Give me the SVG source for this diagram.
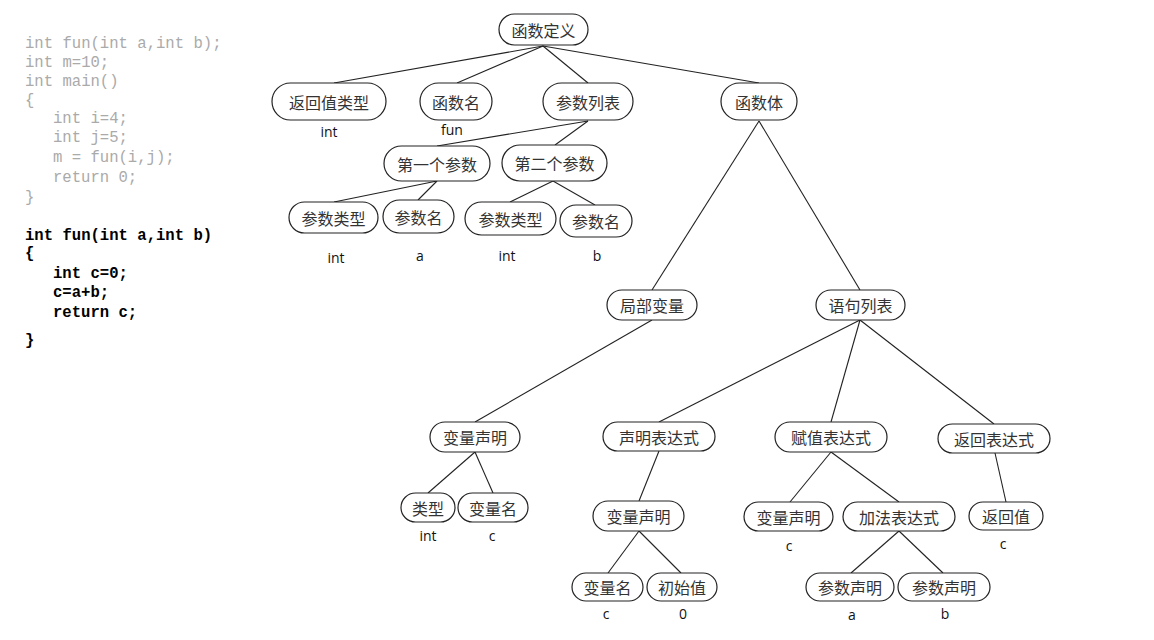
<svg xmlns="http://www.w3.org/2000/svg" width="1154" height="640" viewBox="0 0 1154 640">
<style>
.n rect{fill:#fff;stroke:#222;stroke-width:1.2}
.n text{font-family:"Noto Sans CJK SC","Noto Sans",sans-serif;font-size:16px;fill:#333;text-anchor:middle;dominant-baseline:central}
.lbl{font-family:"Open Sans","Liberation Sans",sans-serif;font-size:14px;fill:#111;text-anchor:middle}
.e line{stroke:#222;stroke-width:1.1}
.code{font-family:"Liberation Mono","DejaVu Sans Mono",monospace;font-size:15.6px}
.g{fill:#aaa}
.b{fill:#000;font-weight:bold}
</style>
<rect width="1154" height="640" fill="#fff"/>
<g id="code" class="code">
<text class="g" x="25" y="48">int fun(int a,int b);</text>
<text class="g" x="25" y="67">int m=10;</text>
<text class="g" x="25" y="86">int main()</text>
<text class="g" x="25" y="105">{</text>
<text class="g" x="53" y="123">int i=4;</text>
<text class="g" x="53" y="142">int j=5;</text>
<text class="g" x="53" y="162">m = fun(i,j);</text>
<text class="g" x="53" y="182">return 0;</text>
<text class="g" x="25" y="202">}</text>
<text class="b" x="25" y="240">int fun(int a,int b)</text>
<text class="b" x="25" y="258">{</text>
<text class="b" x="53" y="278">int c=0;</text>
<text class="b" x="53" y="297">c=a+b;</text>
<text class="b" x="53" y="317">return c;</text>
<text class="b" x="25" y="345">}</text>
</g>
<g id="connectors" class="e">
<line x1="543" y1="46" x2="334" y2="83"/>
<line x1="543" y1="46" x2="457" y2="83"/>
<line x1="543" y1="46" x2="588" y2="83"/>
<line x1="543" y1="46" x2="759" y2="83"/>
<line x1="588" y1="121" x2="437" y2="146"/>
<line x1="588" y1="121" x2="555" y2="145"/>
<line x1="437" y1="181" x2="334" y2="202"/>
<line x1="437" y1="181" x2="418" y2="200"/>
<line x1="553" y1="181" x2="510" y2="202"/>
<line x1="553" y1="181" x2="595" y2="205"/>
<line x1="759" y1="121" x2="652" y2="290"/>
<line x1="759" y1="121" x2="860" y2="290"/>
<line x1="652" y1="320" x2="475" y2="422"/>
<line x1="860" y1="320" x2="659" y2="422"/>
<line x1="860" y1="320" x2="831" y2="422"/>
<line x1="860" y1="320" x2="994" y2="424"/>
<line x1="475" y1="452" x2="428" y2="493"/>
<line x1="475" y1="452" x2="493" y2="493"/>
<line x1="659" y1="451" x2="639" y2="501"/>
<line x1="639" y1="531" x2="608" y2="573"/>
<line x1="639" y1="531" x2="681" y2="573"/>
<line x1="831" y1="452" x2="790" y2="502"/>
<line x1="831" y1="452" x2="899" y2="502"/>
<line x1="995" y1="453" x2="1006" y2="502"/>
<line x1="899" y1="531" x2="851" y2="573"/>
<line x1="899" y1="531" x2="943" y2="573"/>
</g>
<g id="n_hsdy" class="n"><rect x="499" y="14" width="89" height="31" rx="15.5"/><text x="543.5" y="30">函数定义</text></g>
<g id="n_fhzlx" class="n"><rect x="272" y="83" width="114" height="37" rx="18.5"/><text x="329" y="101.5">返回值类型</text></g>
<g id="n_hsm" class="n"><rect x="420" y="83" width="72" height="37" rx="18.5"/><text x="456" y="101.5">函数名</text></g>
<g id="n_cslb" class="n"><rect x="543" y="83" width="90" height="37" rx="18.5"/><text x="588" y="101.5">参数列表</text></g>
<g id="n_hst" class="n"><rect x="721" y="83" width="76" height="37" rx="18.5"/><text x="759" y="101.5">函数体</text></g>
<g id="n_dygcs" class="n"><rect x="384" y="146" width="106" height="35" rx="17.5"/><text x="437" y="163.5">第一个参数</text></g>
<g id="n_degcs" class="n"><rect x="502" y="145" width="105" height="36" rx="18"/><text x="554.5" y="163">第二个参数</text></g>
<g id="n_cslx1" class="n"><rect x="289" y="202" width="89" height="31" rx="15.5"/><text x="333.5" y="217.5">参数类型</text></g>
<g id="n_csm1" class="n"><rect x="383" y="200" width="71" height="33" rx="16.5"/><text x="418.5" y="216.5">参数名</text></g>
<g id="n_cslx2" class="n"><rect x="465" y="202" width="91" height="33" rx="16.5"/><text x="510.5" y="218.5">参数类型</text></g>
<g id="n_csm2" class="n"><rect x="560" y="205" width="72" height="32" rx="16"/><text x="596" y="221">参数名</text></g>
<g id="n_jbbl" class="n"><rect x="607" y="290" width="90" height="30" rx="15"/><text x="652" y="305">局部变量</text></g>
<g id="n_yjlb" class="n"><rect x="816" y="290" width="89" height="30" rx="15"/><text x="860.5" y="305">语句列表</text></g>
<g id="n_blsm1" class="n"><rect x="430" y="422" width="90" height="30" rx="15"/><text x="475" y="437">变量声明</text></g>
<g id="n_smbds" class="n"><rect x="603" y="422" width="112" height="29" rx="14.5"/><text x="659" y="436.5">声明表达式</text></g>
<g id="n_fzbds" class="n"><rect x="775" y="422" width="112" height="30" rx="15"/><text x="831" y="437">赋值表达式</text></g>
<g id="n_fhbds" class="n"><rect x="938" y="424" width="112" height="29" rx="14.5"/><text x="994" y="438.5">返回表达式</text></g>
<g id="n_lx" class="n"><rect x="401" y="493" width="54" height="29" rx="14.5"/><text x="428" y="507.5">类型</text></g>
<g id="n_blm1" class="n"><rect x="458" y="493" width="70" height="29" rx="14.5"/><text x="493" y="507.5">变量名</text></g>
<g id="n_blsm2" class="n"><rect x="593" y="501" width="91" height="30" rx="15"/><text x="638.5" y="516">变量声明</text></g>
<g id="n_blm2" class="n"><rect x="572" y="573" width="71" height="28" rx="14"/><text x="607.5" y="587">变量名</text></g>
<g id="n_csz" class="n"><rect x="647" y="573" width="70" height="28" rx="14"/><text x="682" y="587">初始值</text></g>
<g id="n_blsm3" class="n"><rect x="744" y="502" width="89" height="29" rx="14.5"/><text x="788.5" y="516.5">变量声明</text></g>
<g id="n_jfbds" class="n"><rect x="843" y="502" width="112" height="29" rx="14.5"/><text x="899" y="516.5">加法表达式</text></g>
<g id="n_fhz" class="n"><rect x="969" y="502" width="74" height="28" rx="14"/><text x="1006" y="516">返回值</text></g>
<g id="n_cssm1" class="n"><rect x="806" y="573" width="88" height="28" rx="14"/><text x="850" y="587">参数声明</text></g>
<g id="n_cssm2" class="n"><rect x="898" y="573" width="92" height="28" rx="14"/><text x="944" y="587">参数声明</text></g>
<g id="labels">
<text class="lbl" x="329" y="137">int</text>
<text class="lbl" x="452" y="135">fun</text>
<text class="lbl" x="336" y="263">int</text>
<text class="lbl" x="420" y="261">a</text>
<text class="lbl" x="507" y="261">int</text>
<text class="lbl" x="597" y="261">b</text>
<text class="lbl" x="428" y="541">int</text>
<text class="lbl" x="492" y="541">c</text>
<text class="lbl" x="606" y="619">c</text>
<text class="lbl" x="683" y="619">0</text>
<text class="lbl" x="789" y="551">c</text>
<text class="lbl" x="1003" y="549">c</text>
<text class="lbl" x="852" y="620">a</text>
<text class="lbl" x="945" y="619">b</text>
</g>
</svg>
